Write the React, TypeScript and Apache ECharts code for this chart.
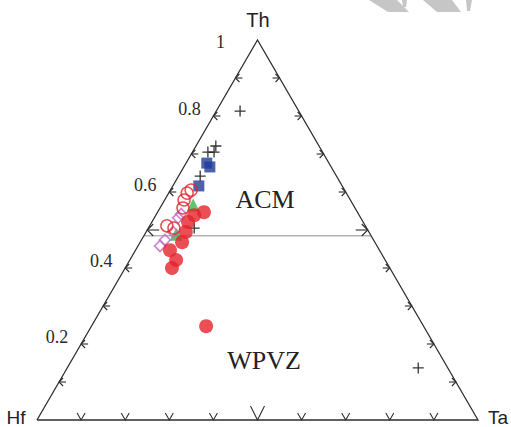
import React, { useEffect, useRef } from "react";
import * as echarts from "echarts";

// Ternary compositions, each row is [Th, Hf, Ta] as fractions
const plusSamples = [
  [0.813, 0.133, 0.054],
  [0.721, 0.234, 0.045],
  [0.705, 0.26, 0.035],
  [0.705, 0.246, 0.049],
  [0.642, 0.309, 0.049],
  [0.505, 0.391, 0.104],
  [0.137, 0.067, 0.796],
];
const squareSamples = [
  [0.676, 0.277, 0.047],
  [0.666, 0.275, 0.059],
  [0.616, 0.325, 0.059],
];
const triangleSamples = [
  [0.566, 0.363, 0.071],
  [0.489, 0.44, 0.071],
];
const diamondSamples = [
  [0.532, 0.414, 0.054],
  [0.542, 0.402, 0.056],
  [0.495, 0.444, 0.061],
  [0.458, 0.492, 0.05],
  [0.474, 0.473, 0.053],
];
const filledCircleSamples = [
  [0.547, 0.348, 0.105],
  [0.539, 0.374, 0.087],
  [0.521, 0.397, 0.082],
  [0.495, 0.415, 0.09],
  [0.468, 0.437, 0.095],
  [0.447, 0.475, 0.078],
  [0.421, 0.474, 0.105],
  [0.4, 0.494, 0.106],
  [0.247, 0.493, 0.26],
];
const openCircleSamples = [
  [0.597, 0.361, 0.042],
  [0.605, 0.348, 0.047],
  [0.579, 0.377, 0.044],
  [0.558, 0.39, 0.052],
  [0.511, 0.45, 0.039],
  [0.505, 0.437, 0.058],
];

// Th value of the ACM / WPVZ boundary
const boundaryTh = 0.485;
// Th-axis tick labels
const thTickValues = [0.2, 0.4, 0.6, 0.8, 1];
const thTickLabels = ["0.2", "0.4", "0.6", "0.8", "1"];
const tickSteps = [0.1, 0.2, 0.3, 0.4, 0.5, 0.6, 0.7, 0.8, 0.9];

// ternary [Th, Hf, Ta] -> cartesian (x along Hf–Ta base, y = Th height)
const toXY = (c: number[]) => [c[2] + c[0] / 2, c[0]];

export default function App() {
  const ref = useRef<HTMLDivElement>(null);

  useEffect(() => {
    if (!ref.current) return;
    const chart = echarts.init(ref.current, null, { renderer: "svg" });
    const edge = "#2e2e2e";

    const frameItem = (params: any, api: any) => {
      if (params.dataIndex !== 0) return null;
      const c = (x: number, y: number) => api.coord([x, y]);
      const children: any[] = [];
      const pl = (pts: number[][], stroke = edge, lw = 1.1) =>
        children.push({
          type: "polyline",
          shape: { points: pts },
          style: { stroke, lineWidth: lw, fill: "none" },
        });
      // boundary line
      const bl = c(boundaryTh / 2, boundaryTh);
      const br = c(1 - boundaryTh / 2, boundaryTh);
      pl([bl, br], "#b4b4b4", 1.6);
      // triangle outline
      pl([c(0, 0), c(0.5, 1), c(1, 0), c(0, 0)], edge, 1.3);
      // ticks
      tickSteps.forEach((t) => {
        const big = Math.abs(t - 0.5) < 1e-6;
        const a = big ? 6 : 4;
        const s = big ? 12 : 7;
        // left edge (Th axis)
        const l = c(t / 2, t);
        pl([[l[0] + a, l[1] - a], l, [l[0] + a, l[1] + a]]);
        pl([l, [l[0] + s, l[1]]]);
        // right edge
        const r = c(1 - t / 2, t);
        pl([[r[0] - a, r[1] - a], r, [r[0] - a, r[1] + a]]);
        pl([r, [r[0] - s, r[1]]]);
        // base
        const b = c(t, 0);
        const bw = big ? 7 : 4;
        const bh = big ? 14 : 7;
        pl([[b[0] - bw, b[1] - bh], b, [b[0] + bw, b[1] - bh]]);
      });
      // Th tick labels
      thTickValues.forEach((t, i) => {
        const p = c(t / 2, t);
        const isTop = t === 1;
        children.push({
          type: "text",
          x: p[0] + (isTop ? -37 : -24),
          y: p[1] + (isTop ? 2 : -7),
          style: {
            text: thTickLabels[i],
            fontSize: 18,
            fontFamily: "'Liberation Serif', serif",
            fill: "#2a2a2a",
            align: "center",
            verticalAlign: "middle",
          },
        });
      });
      return { type: "group", children };
    };

    const mk = (data: number[][]) => data.map(toXY);

    chart.setOption({
      animation: false,
      backgroundColor: "#ffffff",
      grid: { left: 37, right: 33, top: 40, bottom: 7 },
      xAxis: { type: "value", min: 0, max: 1, show: false },
      yAxis: { type: "value", min: 0, max: 1, show: false },
      graphic: [
        { type: "polygon", shape: { points: [[369, 0], [397, 0], [409, 12], [388, 12]] }, style: { fill: "#c6c6c6" } },
        { type: "polygon", shape: { points: [[402, 0], [407, 0], [406, 7], [403, 7]] }, style: { fill: "#c6c6c6" } },
        { type: "polygon", shape: { points: [[423, 0], [452, 0], [461, 12], [437, 12]] }, style: { fill: "#c6c6c6" } },
        { type: "polygon", shape: { points: [[466, 0], [472, 0], [470, 11], [467, 11]] }, style: { fill: "#c6c6c6" } },
        ...[
          { text: "Th", x: 258, y: 20, size: 20, family: "'Liberation Sans', sans-serif" },
          { text: "Hf", x: 16, y: 417, size: 19, family: "'Liberation Sans', sans-serif" },
          { text: "Ta", x: 498, y: 417, size: 19, family: "'Liberation Sans', sans-serif" },
          { text: "ACM", x: 265, y: 199, size: 26, family: "'Liberation Serif', serif" },
          { text: "WPVZ", x: 264, y: 360, size: 26, family: "'Liberation Serif', serif" },
        ].map((t) => ({
          type: "text",
          x: t.x,
          y: t.y,
          z: 10,
          style: {
            text: t.text,
            fontSize: t.size,
            fontFamily: t.family,
            fill: "#222",
            align: "center",
            verticalAlign: "middle",
            textAlign: "center",
            textVerticalAlign: "middle",
          },
        })),
      ],
      series: [
        {
          type: "custom",
          renderItem: frameItem,
          data: [[0, 0]],
          silent: true,
          z: 1,
        },
        {
          type: "scatter",
          data: mk(plusSamples),
          symbol: "path://M0,5L10,5M5,0L5,10",
          symbolSize: 11,
          itemStyle: { color: "none", borderColor: "#000", borderWidth: 1.3 },
          z: 2,
        },
        {
          type: "scatter",
          data: mk(squareSamples),
          symbol: "rect",
          symbolSize: 11,
          itemStyle: { color: "#1f3c96" },
          z: 3,
        },
        {
          type: "scatter",
          data: mk(triangleSamples),
          symbol: "triangle",
          symbolSize: 13,
          itemStyle: { color: "#3fb34a" },
          z: 3,
        },
        {
          type: "scatter",
          data: mk(diamondSamples),
          symbol: "diamond",
          symbolSize: 11,
          itemStyle: { color: "rgba(255,255,255,0)", borderColor: "#bd6cc4", borderWidth: 1.7 },
          z: 4,
        },
        {
          type: "scatter",
          data: mk(filledCircleSamples),
          symbol: "circle",
          symbolSize: 14,
          itemStyle: { color: "#e3232a" },
          z: 5,
        },
        {
          type: "scatter",
          data: mk(openCircleSamples),
          symbol: "circle",
          symbolSize: 12,
          itemStyle: { color: "rgba(255,255,255,0)", borderColor: "#e3232a", borderWidth: 1.5 },
          z: 6,
        },
      ],
    });

    return () => chart.dispose();
  }, []);

  return (
    <div
      ref={ref}
      style={{ position: "fixed", left: 0, top: 0, width: 511, height: 427, background: "#fff" }}
    />
  );
}
